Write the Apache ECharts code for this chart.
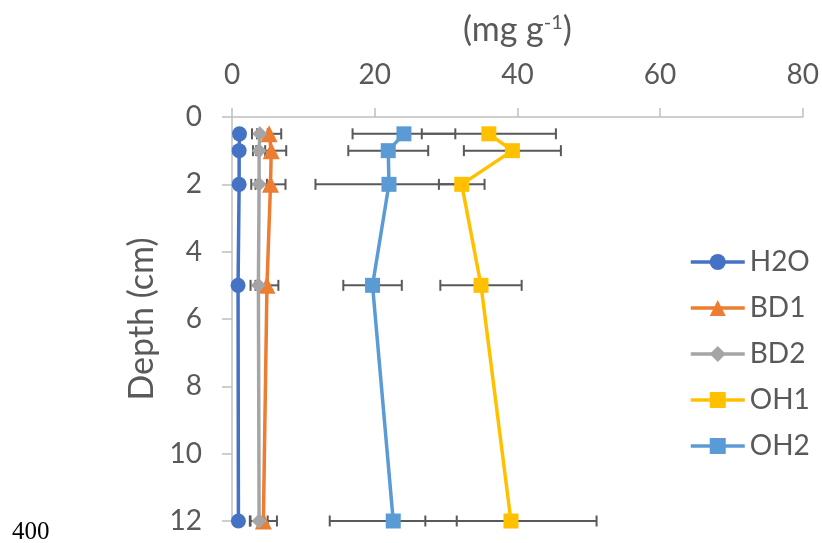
<!DOCTYPE html>
<html>
<head>
<meta charset="utf-8">
<script src="https://cdn.jsdelivr.net/npm/echarts@6/dist/echarts.min.js"></script>
<style>
html,body{margin:0;padding:0;background:#fff;}
#c{width:822px;height:543px;}
</style>
</head>
<body>
<div id="c"></div>
<script>
const depth = [0.5, 1, 2, 5, 12];
const seriesNames = ['H2O', 'BD1', 'BD2', 'OH1', 'OH2'];
const h2o = [1.05, 1.0, 1.0, 0.85, 0.9];
const bd1 = [5.2, 5.5, 5.4, 4.9, 4.4];
const bd2 = [3.9, 3.8, 3.8, 3.7, 3.8];
const oh1 = [36.0, 39.3, 32.2, 34.9, 39.1];
const oh2 = [24.1, 21.9, 22.0, 19.7, 22.6];
const h2oErr = [0.4, 0.4, 0.4, 0.4, 0.4];
const bd1Err = [1.7, 2.1, 2.1, 1.6, 1.9];
const bd2Err = [1.1, 0.85, 1.1, 1.1, 1.2];
const oh1Err = [9.4, 6.8, 3.2, 5.7, 12.0];
const oh2Err = [7.2, 5.6, 10.3, 4.1, 8.9];
const xTicks = [0, 20, 40, 60, 80];
const yTicks = [0, 2, 4, 6, 8, 10, 12];

const colors = ['#4472C4', '#ED7D31', '#A5A5A5', '#FFC000', '#5B9BD5'];
const symbols = ['circle', 'triangle', 'diamond', 'rect', 'rect'];
const symbolSizes = [15, 17, 15, 15, 15];
const values = [h2o, bd1, bd2, oh1, oh2];
const errs = [h2oErr, bd1Err, bd2Err, oh1Err, oh2Err];
const FONT = 'Lato';
const TXT = '#595959';

const chart = echarts.init(document.getElementById('c'), null, {renderer: 'canvas'});

function errRender(params, api) {
  const x = api.value(0), y = api.value(1), e = api.value(2);
  const a = api.coord([x - e, y]);
  const b = api.coord([x + e, y]);
  const h = 5.5;
  const st = {stroke: '#595959', lineWidth: 2};
  return {
    type: 'group',
    children: [
      {type: 'line', shape: {x1: a[0], y1: a[1], x2: b[0], y2: b[1]}, style: st},
      {type: 'line', shape: {x1: a[0], y1: a[1] - h, x2: a[0], y2: a[1] + h}, style: st},
      {type: 'line', shape: {x1: b[0], y1: b[1] - h, x2: b[0], y2: b[1] + h}, style: st}
    ]
  };
}

const series = [];
seriesNames.forEach((n, i) => {
  series.push({
    name: n + ' err',
    type: 'custom',
    renderItem: errRender,
    data: depth.map((d, k) => [values[i][k], d, errs[i][k]]),
    z: 1,
    silent: true
  });
});
seriesNames.forEach((n, i) => {
  series.push({
    name: n,
    type: 'line',
    data: depth.map((d, k) => [values[i][k], d]),
    symbol: symbols[i],
    symbolSize: symbolSizes[i],
    showAllSymbol: true,
    lineStyle: {color: colors[i], width: 3.5},
    itemStyle: {color: colors[i]},
    z: 2 + i
  });
});

chart.setOption({
  animation: false,
  backgroundColor: '#ffffff',
  grid: {left: 232, top: 117, width: 571, height: 404},
  legend: {
    orient: 'vertical',
    left: 684,
    top: 243,
    data: seriesNames,
    itemWidth: 54,
    itemHeight: 20,
    itemGap: 18,
    lineStyle: {width: 3.5},
    textStyle: {fontFamily: FONT, fontSize: 28, color: TXT}
  },
  xAxis: {
    type: 'value',
    position: 'top',
    min: 0, max: 80, interval: 20,
    name: '(mg g{sup|-1})',
    nameLocation: 'middle',
    nameGap: 70,
    nameTextStyle: {
      fontFamily: FONT, fontSize: 34, color: TXT,
      rich: {sup: {fontFamily: FONT, fontSize: 20, color: TXT, verticalAlign: 'top'}}
    },
    axisLine: {show: true, onZero: false, lineStyle: {color: '#BFBFBF', width: 1.5}},
    axisTick: {show: true, length: 9, lineStyle: {color: '#BFBFBF', width: 1.5}},
    axisLabel: {fontFamily: FONT, fontSize: 28, color: TXT, margin: 28,
      formatter: v => xTicks.includes(v) ? String(v) : ''},
    splitLine: {show: false}
  },
  yAxis: {
    type: 'value',
    inverse: true,
    min: 0, max: 12, interval: 2,
    name: 'Depth (cm)',
    nameLocation: 'middle',
    nameGap: 73,
    nameRotate: 90,
    nameTextStyle: {fontFamily: FONT, fontSize: 34, color: TXT},
    axisLine: {show: true, onZero: false, lineStyle: {color: '#BFBFBF', width: 1.5}},
    axisTick: {show: true, length: 10, lineStyle: {color: '#BFBFBF', width: 1.5}},
    axisLabel: {fontFamily: FONT, fontSize: 28, color: TXT, margin: 30,
      formatter: v => yTicks.includes(v) ? String(v) : ''},
    splitLine: {show: false}
  },
  graphic: [{
    type: 'text',
    left: 12,
    top: 520,
    style: {text: '400', fontFamily: 'Liberation Serif', fontSize: 25, fill: '#000'}
  }],
  series: series
});
</script>
</body>
</html>
